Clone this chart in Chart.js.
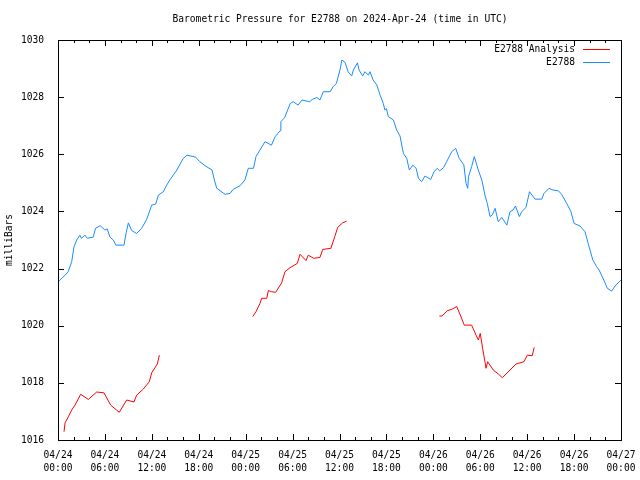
<!DOCTYPE html>
<html>
<head>
<meta charset="utf-8">
<script src="https://cdn.jsdelivr.net/npm/chart.js@4"></script>
<style>
  html, body { margin: 0; padding: 0; background: #fff; }
  #wrap { width: 640px; height: 480px; }
</style>
</head>
<body>
<div id="wrap"><canvas id="pressureChart" width="640" height="480"></canvas></div>
<script>
// hours since 04/24 00:00 UTC
const xTickLabels = ["04/24", "04/24", "04/24", "04/24", "04/25", "04/25", "04/25", "04/25", "04/26", "04/26", "04/26", "04/26", "04/27"];
const xTickTimes = ["00:00", "06:00", "12:00", "18:00", "00:00", "06:00", "12:00", "18:00", "00:00", "06:00", "12:00", "18:00", "00:00"];
const seriesNames = ["E2788 Analysis", "E2788"];

const stationHours = [0, 0.26, 0.9, 1.3, 1.75, 2.05, 2.4, 2.8, 3.0, 3.45, 3.75, 4.5, 4.8, 5.4, 6.0, 6.3, 6.65, 7.07, 7.4, 8.44, 8.7, 9.0, 9.42, 10.06, 10.7, 11.34, 11.98, 12.5, 12.83, 13.47, 13.9, 14.3, 15.2, 16.0, 16.5, 17.6, 18.1, 18.8, 19.7, 20.0, 20.3, 21.36, 22.0, 22.4, 23.28, 23.9, 24.34, 25.0, 25.32, 26.47, 27.3, 27.75, 28.4, 28.5, 29.0, 29.7, 30.1, 30.7, 31.2, 32.2, 32.5, 33.1, 33.5, 33.93, 34.8, 35.2, 35.6, 36.06, 36.3, 36.7, 37.1, 37.56, 37.77, 38.3, 38.5, 38.96, 39.26, 39.7, 39.9, 40.3, 40.76, 41.2, 41.6, 41.8, 42.0, 42.24, 42.9, 43.3, 43.74, 44.17, 44.6, 44.93, 45.36, 45.8, 46.1, 46.5, 46.94, 47.66, 48.1, 48.5, 48.8, 49.3, 49.7, 50.35, 50.86, 51.3, 51.9, 52.18, 52.4, 52.5, 52.9, 53.24, 53.75, 54.2, 54.6, 54.9, 55.25, 55.55, 55.9, 56.3, 56.75, 57.4, 57.8, 58.2, 58.5, 59.0, 59.3, 59.85, 60.3, 61.0, 61.86, 62.15, 62.8, 63.3, 64.0, 64.4, 65.06, 65.6, 66.0, 66.76, 67.4, 67.8, 68.4, 68.9, 69.2, 69.8, 70.25, 70.8, 71.24, 72];
const stationValues = [1021.53, 1021.6, 1021.77, 1021.89, 1022.24, 1022.77, 1023.0, 1023.17, 1023.06, 1023.17, 1023.06, 1023.1, 1023.41, 1023.5, 1023.35, 1023.39, 1023.1, 1023.0, 1022.82, 1022.82, 1023.23, 1023.6, 1023.33, 1023.23, 1023.41, 1023.72, 1024.22, 1024.26, 1024.57, 1024.69, 1024.92, 1025.1, 1025.45, 1025.85, 1025.97, 1025.9, 1025.75, 1025.6, 1025.45, 1025.1, 1024.81, 1024.6, 1024.63, 1024.77, 1024.9, 1025.1, 1025.51, 1025.51, 1025.92, 1026.44, 1026.32, 1026.61, 1026.82, 1027.14, 1027.29, 1027.78, 1027.84, 1027.72, 1027.9, 1027.84, 1027.92, 1027.99, 1027.9, 1028.19, 1028.19, 1028.37, 1028.48, 1028.95, 1029.3, 1029.22, 1028.89, 1028.74, 1028.95, 1029.2, 1028.95, 1028.74, 1028.89, 1028.77, 1028.89, 1028.6, 1028.43, 1028.07, 1027.78, 1027.55, 1027.6, 1027.32, 1027.2, 1026.85, 1026.64, 1026.03, 1025.86, 1025.45, 1025.62, 1025.51, 1025.16, 1025.04, 1025.24, 1025.12, 1025.39, 1025.51, 1025.42, 1025.53, 1025.74, 1026.09, 1026.21, 1025.86, 1025.63, 1024.98, 1024.81, 1025.22, 1025.57, 1025.92, 1025.45, 1025.1, 1024.57, 1024.28, 1023.82, 1023.88, 1024.11, 1023.64, 1023.79, 1023.52, 1023.99, 1024.05, 1024.19, 1023.82, 1023.99, 1024.14, 1024.69, 1024.43, 1024.43, 1024.63, 1024.81, 1024.75, 1024.72, 1024.6, 1024.28, 1023.99, 1023.58, 1023.49, 1023.29, 1022.88, 1022.3, 1022.06, 1021.95, 1021.6, 1021.31, 1021.21, 1021.39, 1021.6];

// null separates the three analysis runs
const analysisHours = [0.77, 0.9, 1.32, 1.75, 2.17, 2.9, 3.88, 4.95, 5.88, 6.74, 7.84, 8.78, 9.72, 10.06, 10.9, 11.68, 11.98, 12.7, 12.96, 18.0,
  24.9, 25.32, 25.83, 26.05, 26.7, 26.9, 27.3, 27.84, 28.6, 29.03, 29.67, 30.6, 30.95, 31.72, 32.0, 32.7, 33.5, 33.85, 34.9, 35.4, 35.77, 36.4, 36.9, 42.0,
  48.77, 49.1, 49.8, 50.35, 50.99, 51.5, 51.96, 52.9, 53.46, 53.76, 54.0, 54.3, 54.6, 54.74, 54.95, 55.67, 56.31, 56.83, 57.8, 58.57, 59.6, 60.02, 60.65, 60.9];
const analysisValues = [1016.29, 1016.6, 1016.81, 1017.05, 1017.22, 1017.6, 1017.42, 1017.68, 1017.65, 1017.22, 1016.97, 1017.4, 1017.33, 1017.57, 1017.78, 1018.04, 1018.35, 1018.66, 1018.97, null,
  1020.32, 1020.49, 1020.78, 1020.96, 1020.96, 1021.23, 1021.19, 1021.17, 1021.5, 1021.89, 1022.03, 1022.18, 1022.5, 1022.28, 1022.47, 1022.36, 1022.39, 1022.67, 1022.71, 1023.12, 1023.44, 1023.6, 1023.66, null,
  1020.34, 1020.34, 1020.53, 1020.57, 1020.67, 1020.34, 1020.02, 1020.02, 1019.67, 1019.5, 1019.73, 1019.21, 1018.74, 1018.51, 1018.74, 1018.45, 1018.31, 1018.18, 1018.45, 1018.66, 1018.74, 1018.97, 1018.95, 1019.24];

const FONT = "'DejaVu Sans Mono', 'Liberation Mono', monospace";
const RED = "#ff0000";
const BLUE = "#1a8cff";

function toPoints(xs, ys) {
  return xs.map((x, i) => ({ x, y: ys[i] }));
}

// gnuplot-like frame, inward ticks, title and legend
const framePlugin = {
  id: "frame",
  afterDatasetsDraw(chart) {
    const { ctx, chartArea: a, scales } = chart;
    ctx.save();
    ctx.strokeStyle = "#000";
    ctx.lineWidth = 1;
    ctx.strokeRect(a.left + 0.5, a.top + 0.5, a.right - a.left, a.bottom - a.top);

    ctx.beginPath();
    for (let h = 0; h <= 72; h += 2) {
      const x = Math.round(scales.x.getPixelForValue(h)) + 0.5;
      const len = h % 6 === 0 ? 6 : 3;
      ctx.moveTo(x, a.bottom); ctx.lineTo(x, a.bottom - len);
      ctx.moveTo(x, a.top); ctx.lineTo(x, a.top + len);
    }
    for (let p = 1016; p <= 1030; p += 2) {
      const y = Math.round(scales.y.getPixelForValue(p)) + 0.5;
      ctx.moveTo(a.left, y); ctx.lineTo(a.left + 6, y);
      ctx.moveTo(a.right, y); ctx.lineTo(a.right - 6, y);
    }
    ctx.stroke();

    ctx.fillStyle = "#000";
    ctx.font = "9.6px " + FONT;
    ctx.textAlign = "center";
    ctx.textBaseline = "middle";
    ctx.fillText("Barometric Pressure for E2788 on 2024-Apr-24 (time in UTC)", 340, 19);

    ctx.textAlign = "right";
    chart.data.datasets.forEach((ds, i) => {
      const y = 49 + i * 13;
      ctx.fillStyle = "#000";
      ctx.fillText(ds.label, 575, y);
      ctx.strokeStyle = ds.borderColor;
      ctx.beginPath();
      ctx.moveTo(583, y + 0.5);
      ctx.lineTo(610, y + 0.5);
      ctx.stroke();
    });
    ctx.restore();
  },
};

new Chart(document.getElementById("pressureChart"), {
  type: "line",
  data: {
    datasets: [
      {
        label: seriesNames[0],
        data: toPoints(analysisHours, analysisValues),
        borderColor: RED,
        borderWidth: 1,
        pointRadius: 0,
        spanGaps: false,
      },
      {
        label: seriesNames[1],
        data: toPoints(stationHours, stationValues),
        borderColor: BLUE,
        borderWidth: 1,
        pointRadius: 0,
      },
    ],
  },
  options: {
    responsive: false,
    animation: false,
    layout: { padding: { top: 40, right: 19, left: 0, bottom: 0 } },
    plugins: { legend: { display: false }, tooltip: { enabled: false } },
    scales: {
      x: {
        type: "linear",
        min: 0,
        max: 72,
        grid: { display: false },
        border: { display: false },
        afterFit: (s) => { s.height = 40; },
        afterBuildTicks: (s) => { s.ticks = xTickLabels.map((_, i) => ({ value: i * 6 })); },
        ticks: {
          autoSkip: false,
          maxRotation: 0,
          padding: 1,
          color: "#000",
          font: { family: FONT, size: 9.6, lineHeight: 1.35 },
          callback: (v) => [xTickLabels[v / 6], xTickTimes[v / 6]],
        },
      },
      y: {
        min: 1016,
        max: 1030,
        grid: { display: false },
        border: { display: false },
        afterFit: (s) => { s.width = 58; },
        ticks: {
          stepSize: 2,
          padding: 6,
          color: "#000",
          font: { family: FONT, size: 9.6 },
          callback: (v) => String(v),
        },
        title: { display: true, text: "milliBars", color: "#000", font: { family: FONT, size: 9.6 }, padding: 4 },
      },
    },
  },
  plugins: [framePlugin],
});
</script>
</body>
</html>
